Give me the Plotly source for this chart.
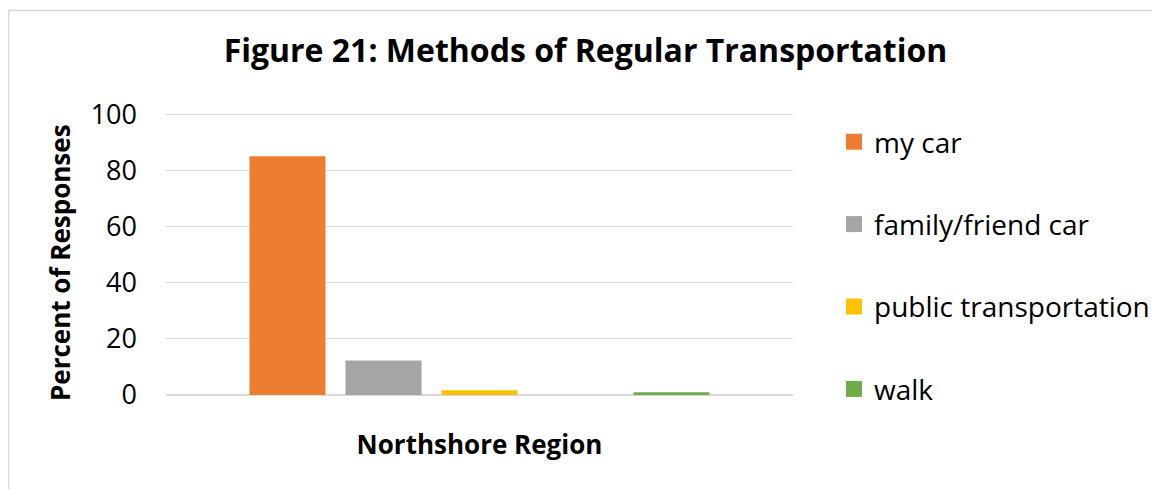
import plotly.graph_objects as go

# ---- data ----
category = ["Northshore Region"]
series_names = ["my car", "family/friend car", "public transportation", "", "walk"]
series_values = [85.0, 12.3, 1.7, None, 1.0]
series_colors = ["#ED7D31", "#A5A5A5", "#FFC000", "#FFFFFF", "#70AD47"]
show_in_legend = [True, True, True, False, True]
y_ticks = [0, 20, 40, 60, 80, 100]

FONT = "Open Sans"
# page has an 8px body margin; figure coords = page coords - 8
OFF = 8
W, H = 1160 - OFF, 489 - OFF
ML, MT = 166 - OFF, 113 - OFF
PLOT_R, PLOT_B = 793 - OFF, 395 - OFF
MR, MB = W - PLOT_R, H - PLOT_B
PW, PH = PLOT_R - ML, PLOT_B - MT
Y_TOP = 100.4  # tiny headroom so the 100 gridline is drawn

fig = go.Figure()
for name, val, col, show in zip(series_names, series_values, series_colors, show_in_legend):
    fig.add_trace(go.Bar(
        x=category, y=[val], name=name if name else "blank",
        marker=dict(color=col, line=dict(width=0)),
        showlegend=False,
    ))
# legend entries with larger square keys
for name, col, show in zip(series_names, series_colors, show_in_legend):
    if not show:
        continue
    fig.add_trace(go.Scatter(
        x=[None], y=[None], mode="markers", name=name,
        marker=dict(symbol="square", size=16, color=col, line=dict(width=0)),
        legendgroup=name, showlegend=True,
    ))

def px_to_paper_x(px):
    return (px - ML) / PW

def px_to_paper_y(py):
    return (PLOT_B - py) / PH

fig.update_layout(
    width=W, height=H,
    margin=dict(l=ML, r=MR, t=MT, b=MB, autoexpand=False),
    paper_bgcolor="white", plot_bgcolor="white",
    barmode="group", bargap=0.2344, bargroupgap=0.208,
    font=dict(family=FONT, color="#000000"),
    title=dict(text="<b>Figure 21: Methods of Regular Transportation</b>",
               x=(585.5 - OFF) / W, xref="container", xanchor="center",
               y=1 - (50.5 - OFF) / H, yref="container", yanchor="middle",
               font=dict(size=32, family=FONT, color="#000000")),
    xaxis=dict(showticklabels=False, ticks="", showline=False, showgrid=False,
               title=dict(text="<b>Northshore Region</b>", font=dict(size=26, family=FONT), standoff=40)),
    yaxis=dict(range=[0, Y_TOP], tickvals=y_ticks, ticktext=[str(t) for t in y_ticks],
               showgrid=True, gridcolor="#D9D9D9", gridwidth=1,
               zeroline=True, zerolinecolor="#D9D9D9", zerolinewidth=1.5,
               showline=False, ticks="", ticklabelstandoff=28,
               tickfont=dict(size=27, family=FONT)),
    annotations=[dict(text="<b>Percent of Responses</b>", textangle=-90,
                      xref="paper", yref="paper",
                      x=px_to_paper_x(60 - OFF), y=px_to_paper_y(263 - OFF),
                      xanchor="center", yanchor="middle", showarrow=False,
                      font=dict(size=26, family=FONT, color="#000000"))],
    legend=dict(x=px_to_paper_x(834 - OFF), xanchor="left", y=px_to_paper_y(117 - OFF), yanchor="top",
                font=dict(size=28, family=FONT), traceorder="grouped", tracegroupgap=43,
                bgcolor="rgba(0,0,0,0)", maxheight=700),
    showlegend=True,
    shapes=[dict(type="rect", xref="paper", yref="paper",
                 x0=px_to_paper_x(8.5 - OFF), x1=px_to_paper_x(W + 20),
                 y0=px_to_paper_y(H + 20), y1=px_to_paper_y(10.5 - OFF),
                 line=dict(color="#D9D9D9", width=1.5), fillcolor="rgba(0,0,0,0)", layer="below")],
)

fig.write_html("out.html")
